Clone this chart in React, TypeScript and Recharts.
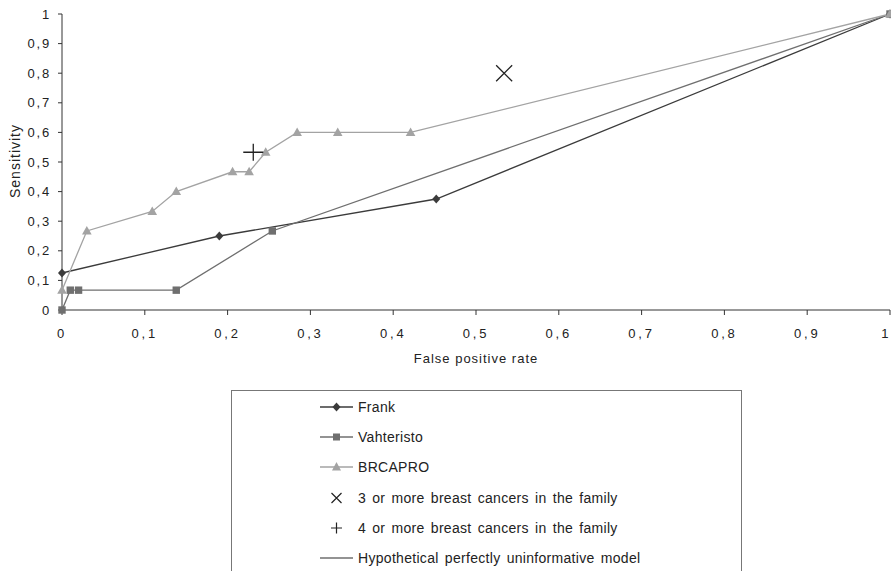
import React from 'react';
import { ComposedChart, Line, Scatter, XAxis, YAxis, Label } from 'recharts';

// ROC points (false positive rate vs sensitivity)
const frankFpr = [0, 0.19, 0.452, 1];
const frankSens = [0.125, 0.25, 0.375, 1];

const vahtFpr = [0, 0.01, 0.02, 0.138, 0.254, 1];
const vahtSens = [0, 0.067, 0.067, 0.067, 0.267, 1];

const brcaFpr = [0, 0.03, 0.109, 0.138, 0.206, 0.226, 0.246, 0.284, 0.333, 0.421, 1];
const brcaSens = [0.067, 0.267, 0.333, 0.4, 0.467, 0.467, 0.533, 0.6, 0.6, 0.6, 1];

const threeOrMore = [{ x: 0.534, y: 0.8 }];
const fourOrMore = [{ x: 0.231, y: 0.533 }];

const axisTicks = [0, 0.1, 0.2, 0.3, 0.4, 0.5, 0.6, 0.7, 0.8, 0.9, 1];

const legendLabels = [
  'Frank',
  'Vahteristo',
  'BRCAPRO',
  '3 or more breast cancers in the family',
  '4 or more breast cancers in the family',
  'Hypothetical perfectly uninformative model',
];

const toPoints = (xs: number[], ys: number[]) => xs.map((x, i) => ({ x, y: ys[i] }));

const FRANK = '#3b3b3b';
const VAHT = '#6f6f6f';
const BRCA = '#a3a3a3';
const FONT = '"Liberation Sans", Arial, sans-serif';

const fmt = (v: number) => String(v).replace('.', ',');

const diamondDot = (p: any) => (
  <path key={'d' + p.index} d={`M${p.cx},${p.cy - 4.5}L${p.cx + 4},${p.cy}L${p.cx},${p.cy + 4.5}L${p.cx - 4},${p.cy}Z`} fill={FRANK} />
);
const squareDot = (p: any) => (
  <rect key={'s' + p.index} x={p.cx - 3.7} y={p.cy - 3.7} width={7.4} height={7.4} fill={VAHT} />
);
const triangleDot = (p: any) => (
  <path key={'t' + p.index} d={`M${p.cx},${p.cy - 5}L${p.cx + 4.8},${p.cy + 3.5}L${p.cx - 4.8},${p.cy + 3.5}Z`} fill={BRCA} />
);
const crossShape = (p: any) => (
  <path d={`M${p.cx - 8},${p.cy - 8}L${p.cx + 8},${p.cy + 8}M${p.cx + 8},${p.cy - 8}L${p.cx - 8},${p.cy + 8}`} stroke="#222" strokeWidth={1.3} fill="none" />
);
const plusShape = (p: any) => (
  <path d={`M${p.cx - 10},${p.cy}L${p.cx + 10},${p.cy}M${p.cx},${p.cy - 8.5}L${p.cx},${p.cy + 8.5}`} stroke="#222" strokeWidth={1.3} fill="none" />
);

function LegendSymbol({ i }: { i: number }) {
  const line = (c: string) => <line x1={0} y1={6} x2={33} y2={6} stroke={c} strokeWidth={1.5} />;
  return (
    <svg width={34} height={12} style={{ display: 'block' }}>
      {i === 0 && (<>{line(FRANK)}<path d="M16.5,1.5L20.5,6L16.5,10.5L12.5,6Z" fill={FRANK} /></>)}
      {i === 1 && (<>{line(VAHT)}<rect x={13} y={2.5} width={7} height={7} fill={VAHT} /></>)}
      {i === 2 && (<>{line(BRCA)}<path d="M16.5,1L21,9.5L12,9.5Z" fill={BRCA} /></>)}
      {i === 3 && <path d="M11.5,1L21.5,11M21.5,1L11.5,11" stroke="#222" strokeWidth={1.2} />}
      {i === 4 && <path d="M11,6L22,6M16.5,0.5L16.5,11.5" stroke="#222" strokeWidth={1.2} />}
      {i === 5 && line(VAHT)}
    </svg>
  );
}

export default function App() {
  return (
    <div style={{ position: 'absolute', left: 0, top: 0, width: 891, height: 571, background: '#fff', overflow: 'hidden', fontFamily: FONT }}>
      <ComposedChart width={891} height={390} margin={{ top: 14, right: 1, bottom: 0, left: 0 }}>
        <XAxis
          type="number"
          dataKey="x"
          domain={[0, 1]}
          ticks={axisTicks}
          tickFormatter={fmt}
          height={80}
          tickSize={5}
          tickMargin={14}
          stroke="#333"
          tick={{ fill: '#222', fontSize: 13, fontFamily: FONT, letterSpacing: 2.8 }}
        >
          <Label value="False positive rate" position="insideBottom" offset={27} style={{ fill: '#222', fontSize: 13, fontFamily: FONT, letterSpacing: 1.0 }} />
        </XAxis>
        <YAxis
          type="number"
          dataKey="y"
          domain={[0, 1]}
          ticks={axisTicks}
          tickFormatter={fmt}
          width={62}
          tickSize={4}
          tickMargin={7}
          stroke="#333"
          tick={{ fill: '#222', fontSize: 13, fontFamily: FONT, letterSpacing: 1.8 }}
        >
          <Label
            content={() => (
              <text x={16} y={161} transform="rotate(-90 16 161)" textAnchor="middle" dominantBaseline="middle" fill="#222" fontSize={14} letterSpacing={1} fontFamily={FONT}>
                Sensitivity
              </text>
            )}
          />
        </YAxis>
        <Line data={toPoints(frankFpr, frankSens)} dataKey="y" stroke={FRANK} strokeWidth={1.3} dot={diamondDot} activeDot={false} isAnimationActive={false} />
        <Line data={toPoints(vahtFpr, vahtSens)} dataKey="y" stroke={VAHT} strokeWidth={1.3} dot={squareDot} activeDot={false} isAnimationActive={false} />
        <Line data={toPoints(brcaFpr, brcaSens)} dataKey="y" stroke={BRCA} strokeWidth={1.3} dot={triangleDot} activeDot={false} isAnimationActive={false} />
        <Scatter data={threeOrMore} dataKey="y" shape={crossShape} isAnimationActive={false} />
        <Scatter data={fourOrMore} dataKey="y" shape={plusShape} isAnimationActive={false} />
      </ComposedChart>
      <div style={{ position: 'absolute', left: 231, top: 390, width: 511, height: 220, border: '1px solid #777', boxSizing: 'border-box' }}>
        {legendLabels.map((t, i) => (
          <div key={t} style={{ position: 'absolute', left: 88, top: 7 + i * 30.2, height: 18, display: 'flex', alignItems: 'center', fontSize: 14, color: '#222', letterSpacing: 0.3, wordSpacing: 2 }}>
            <LegendSymbol i={i} />
            <span style={{ marginLeft: 4, whiteSpace: 'nowrap' }}>{t}</span>
          </div>
        ))}
      </div>
    </div>
  );
}
